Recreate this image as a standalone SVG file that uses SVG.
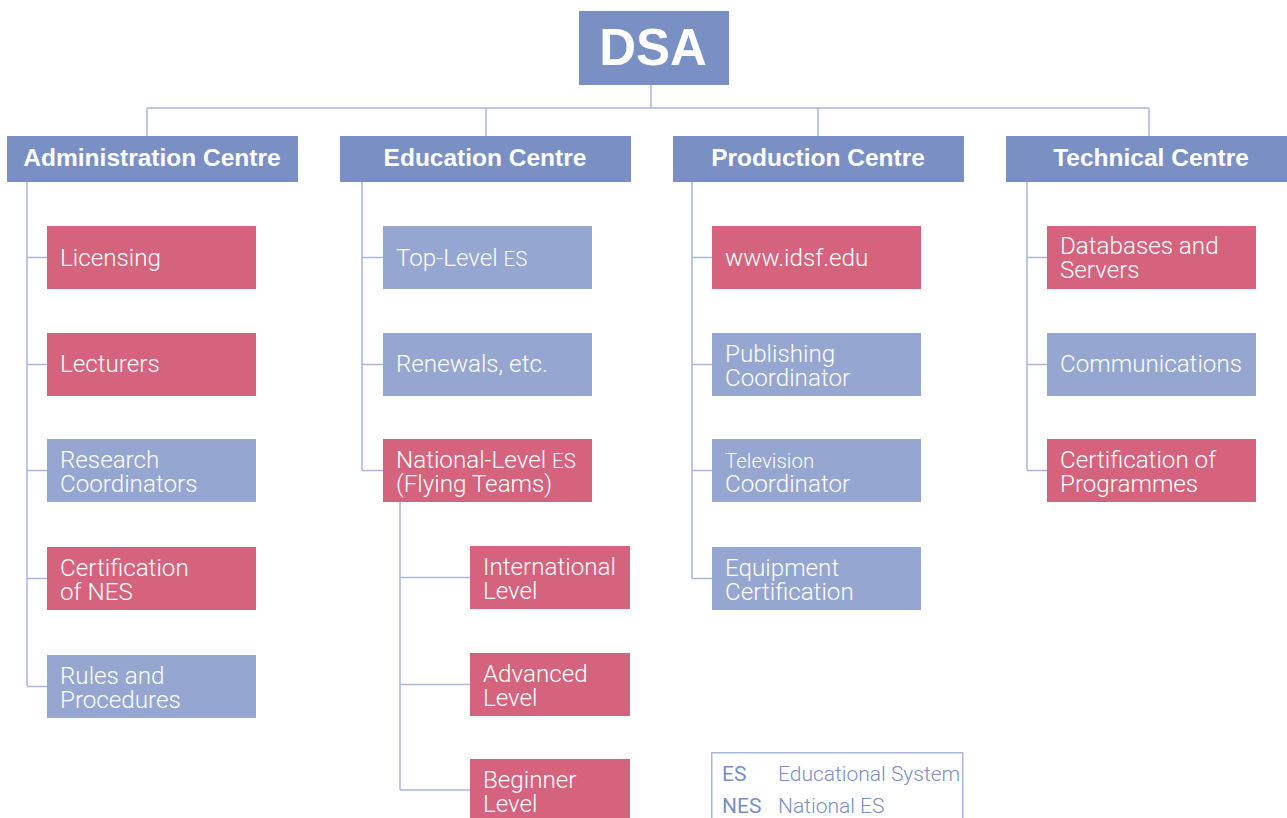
<svg xmlns="http://www.w3.org/2000/svg" width="1287" height="818" viewBox="0 0 1287 818">
<style>
.hdr{fill:#7a8fc4}
.pk{fill:#d5637e}
.lb{fill:#95a6d1}
.ht{font-family:"Liberation Sans",Arial,sans-serif;font-weight:bold;font-size:24.5px;fill:#ffffff;text-anchor:middle}
.st{font-family:"Roboto","Liberation Sans",sans-serif;font-weight:300;font-size:24.2px;fill:#ffffff}
.sm{font-size:20.5px}
.ln{stroke:#a9b6dd;stroke-width:1.5;fill:none}
.lg{font-family:"Roboto","Liberation Sans",sans-serif;font-size:21px;fill:#7a8fc4}
</style>
<g id="connectors">
<path class="ln" d="M651 85V108M147 108H1149M147 108V136M486 108V136M818 108V136M1149 108V136"/>
<path class="ln" d="M27 182V686M27 257.5H47M27 364.5H47M27 470.5H47M27 578.5H47M27 686.5H47"/>
<path class="ln" d="M362 182V470.5M362 257.5H383M362 364.5H383M362 470.5H383"/>
<path class="ln" d="M400 502V790M400 577.5H470M400 684.5H470M400 790H470"/>
<path class="ln" d="M692 182V578.5M692 257.5H712M692 364.5H712M692 470.5H712M692 578.5H712"/>
<path class="ln" d="M1027 182V470.5M1027 257.5H1047M1027 364.5H1047M1027 470.5H1047"/>
</g>
<g id="dsa"><rect class="hdr" x="579" y="11" width="150" height="74"/><text x="653" y="65" font-family="Liberation Sans,Arial,sans-serif" font-weight="bold" font-size="51" fill="#fff" text-anchor="middle">DSA</text></g>
<g id="admin"><rect class="hdr" x="7" y="136" width="291" height="46"/><text class="ht" x="152" y="166">Administration Centre</text></g>
<g id="edu"><rect class="hdr" x="340" y="136" width="291" height="46"/><text class="ht" x="485" y="166">Education Centre</text></g>
<g id="prod"><rect class="hdr" x="673" y="136" width="291" height="46"/><text class="ht" x="818" y="166">Production Centre</text></g>
<g id="tech"><rect class="hdr" x="1006" y="136" width="281" height="46"/><text class="ht" x="1151" y="166">Technical Centre</text></g>

<g id="licensing"><rect class="pk" x="47" y="226" width="209" height="63"/><text class="st" x="60" y="266">Licensing</text></g>
<g id="lecturers"><rect class="pk" x="47" y="333" width="209" height="63"/><text class="st" x="60" y="372">Lecturers</text></g>
<g id="research"><rect class="lb" x="47" y="439" width="209" height="63"/><text class="st" x="60" y="468">Research</text><text class="st" x="60" y="492">Coordinators</text></g>
<g id="certnes"><rect class="pk" x="47" y="547" width="209" height="63"/><text class="st" x="60" y="576">Certification</text><text class="st" x="60" y="600">of NES</text></g>
<g id="rules"><rect class="lb" x="47" y="655" width="209" height="63"/><text class="st" x="60" y="684">Rules and</text><text class="st" x="60" y="708">Procedures</text></g>

<g id="toplevel"><rect class="lb" x="383" y="226" width="209" height="63"/><text class="st" x="396" y="266">Top-Level <tspan class="sm">ES</tspan></text></g>
<g id="renewals"><rect class="lb" x="383" y="333" width="209" height="63"/><text class="st" x="396" y="372">Renewals, etc.</text></g>
<g id="national"><rect class="pk" x="383" y="439" width="209" height="63"/><text class="st" x="396" y="468">National-Level <tspan class="sm">ES</tspan></text><text class="st" x="396" y="492">(Flying Teams)</text></g>
<g id="intl"><rect class="pk" x="470" y="546" width="160" height="63"/><text class="st" x="483" y="575">International</text><text class="st" x="483" y="599">Level</text></g>
<g id="adv"><rect class="pk" x="470" y="653" width="160" height="63"/><text class="st" x="483" y="682">Advanced</text><text class="st" x="483" y="706">Level</text></g>
<g id="beg"><rect class="pk" x="470" y="759" width="160" height="63"/><text class="st" x="483" y="788">Beginner</text><text class="st" x="483" y="812">Level</text></g>

<g id="www"><rect class="pk" x="712" y="226" width="209" height="63"/><text class="st" x="725" y="266">www.idsf.edu</text></g>
<g id="publishing"><rect class="lb" x="712" y="333" width="209" height="63"/><text class="st" x="725" y="362">Publishing</text><text class="st" x="725" y="386">Coordinator</text></g>
<g id="television"><rect class="lb" x="712" y="439" width="209" height="63"/><text class="st sm" x="725" y="468">Television</text><text class="st" x="725" y="492">Coordinator</text></g>
<g id="equipment"><rect class="lb" x="712" y="547" width="209" height="63"/><text class="st" x="725" y="576">Equipment</text><text class="st" x="725" y="600">Certification</text></g>

<g id="databases"><rect class="pk" x="1047" y="226" width="209" height="63"/><text class="st" x="1060" y="254">Databases and</text><text class="st" x="1060" y="278">Servers</text></g>
<g id="comms"><rect class="lb" x="1047" y="333" width="209" height="63"/><text class="st" x="1060" y="372">Communications</text></g>
<g id="certprog"><rect class="pk" x="1047" y="439" width="209" height="63"/><text class="st" x="1060" y="468">Certification of</text><text class="st" x="1060" y="492">Programmes</text></g>

<g id="legend">
<rect x="711.75" y="752.75" width="251" height="80" fill="none" stroke="#a9b6dd" stroke-width="1.5"/>
<text class="lg" x="722" y="781" font-size="20" font-weight="400">ES</text>
<text class="lg" x="778" y="781" font-weight="300">Educational System</text>
<text class="lg" x="722" y="813" font-size="20" font-weight="400">NES</text>
<text class="lg" x="778" y="813" font-weight="300">National ES</text>
</g>
</svg>
